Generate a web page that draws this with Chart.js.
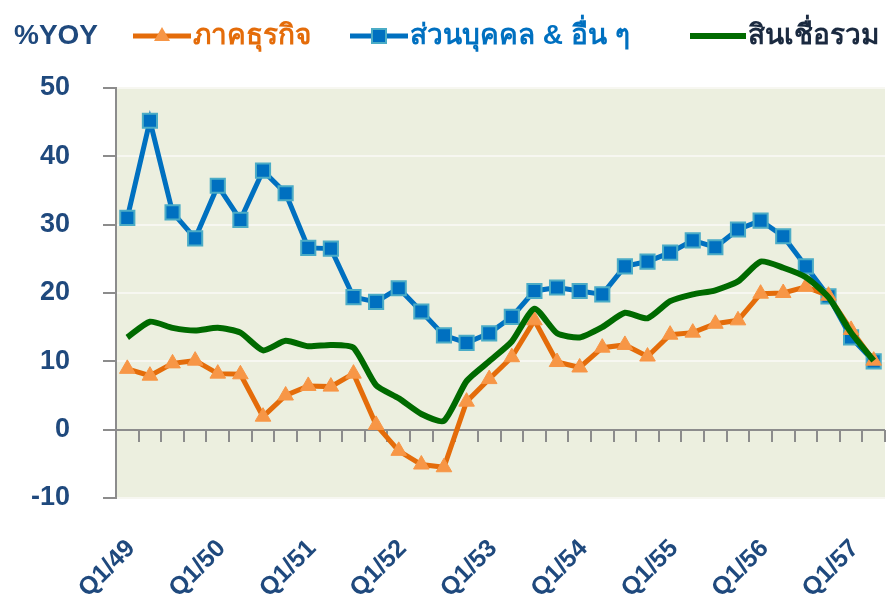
<!DOCTYPE html>
<html>
<head>
<meta charset="utf-8">
<script src="https://cdn.jsdelivr.net/npm/chart.js@4"></script>
<style>
    html, body { margin: 0; padding: 0; background: #ffffff; }
    #wrap { position: relative; width: 891px; height: 599px; }
    #legend {
        position: absolute; left: 0; top: 14px; height: 42px; width: 891px;
        font-family: Arial, "Liberation Sans", "Noto Sans", sans-serif;
        font-weight: bold; font-size: 28px; line-height: 42px; white-space: nowrap;
    }
    #legend span, #legend svg { position: absolute; top: 0; }
    #legend svg { top: 9px; }
</style>
</head>
<body>
<div id="wrap">
    <canvas id="myChart" width="891" height="599"></canvas>
    <div id="legend">
        <span style="left:14px;color:#1F497D">%YOY</span>
        <svg style="left:133px" width="58" height="24">
            <line x1="0" y1="13" x2="58" y2="13" stroke="#E46C0A" stroke-width="5"/>
            <polygon points="29,4 37,18 21,18" fill="#F79646"/>
        </svg>
        <span style="left:193px;color:#E46C0A">ภาคธุรกิจ</span>
        <svg style="left:350px" width="58" height="24">
            <line x1="0" y1="13" x2="58" y2="13" stroke="#0070C0" stroke-width="5"/>
            <rect x="22" y="6" width="14" height="14" fill="#0070C0" stroke="#4BACC6" stroke-width="2"/>
        </svg>
        <span style="left:410px;color:#0070C0">ส่วนบุคคล &amp; อื่น ๆ</span>
        <svg style="left:690px" width="56" height="24">
            <line x1="0" y1="13" x2="56" y2="13" stroke="#006A00" stroke-width="6"/>
        </svg>
        <span style="left:748px;color:#1B2A40">สินเชื่อรวม</span>
    </div>
</div>
<script>
const quarters = [
    "Q1/49", "Q2/49", "Q3/49", "Q4/49",
    "Q1/50", "Q2/50", "Q3/50", "Q4/50",
    "Q1/51", "Q2/51", "Q3/51", "Q4/51",
    "Q1/52", "Q2/52", "Q3/52", "Q4/52",
    "Q1/53", "Q2/53", "Q3/53", "Q4/53",
    "Q1/54", "Q2/54", "Q3/54", "Q4/54",
    "Q1/55", "Q2/55", "Q3/55", "Q4/55",
    "Q1/56", "Q2/56", "Q3/56", "Q4/56",
    "Q1/57", "Q2/57"
];

// ภาคธุรกิจ
const business = [
    8.9, 7.9, 9.7, 10.1, 8.2, 8.1, 1.9, 5.0,
    6.4, 6.3, 8.2, 0.7, -3.1, -5.1, -5.5, 4.1,
    7.4, 10.6, 16.0, 9.9, 9.1, 12.0, 12.4, 10.7,
    13.9, 14.2, 15.5, 16.0, 19.9, 20.0, 20.9, 19.6,
    14.6, 10.1
];

// ส่วนบุคคล & อื่น ๆ
const personal = [
    31.0, 45.2, 31.8, 28.0, 35.7, 30.7, 37.9, 34.6,
    26.6, 26.5, 19.4, 18.7, 20.7, 17.3, 13.8, 12.7,
    14.1, 16.5, 20.3, 20.8, 20.3, 19.8, 23.9, 24.6,
    25.9, 27.7, 26.7, 29.3, 30.6, 28.3, 23.9, 19.5,
    13.5, 10.0
];

// สินเชื่อรวม
const total = [
    13.5, 15.8, 14.9, 14.5, 14.9, 14.2, 11.6, 13.0,
    12.2, 12.4, 12.0, 6.5, 4.6, 2.3, 1.3, 7.1,
    10.0, 12.9, 17.7, 14.1, 13.5, 15.0, 17.1, 16.3,
    18.8, 19.8, 20.4, 21.7, 24.6, 23.7, 22.3, 19.4,
    14.2, 10.1
];

const yTicks = [-10, 0, 10, 20, 30, 40, 50];

window.onload = () => {
    const labelColor = "#1F497D";
    const axisGray = "#8C8C8C";
    const fontFamily = 'Arial, "Liberation Sans", sans-serif';

    // shades the plot area
    const plotBackground = {
        id: "plotBackground",
        beforeDraw(chart) {
            const a = chart.chartArea;
            const ctx = chart.ctx;
            ctx.save();
            ctx.fillStyle = "#ECEFDF";
            ctx.fillRect(a.left, a.top, a.right - a.left, a.bottom - a.top);
            ctx.restore();
        }
    };

    const noSidePadding = (s) => {
        s.paddingRight = 0;
        s.paddingLeft = 0;
    };

    const data = {
        labels: quarters,
        datasets: [
            {
                label: "สินเชื่อรวม",
                data: total,
                borderColor: "#006A00",
                borderWidth: 6,
                pointRadius: 0,
                tension: 0.2,
                order: 1
            },
            {
                label: "ส่วนบุคคล & อื่น ๆ",
                data: personal,
                borderColor: "#0070C0",
                borderWidth: 5,
                pointStyle: "rect",
                pointRadius: 10,
                pointBackgroundColor: "#0070C0",
                pointBorderColor: "#4BACC6",
                pointBorderWidth: 2,
                order: 3
            },
            {
                label: "ภาคธุรกิจ",
                data: business,
                borderColor: "#E46C0A",
                borderWidth: 5,
                pointStyle: "triangle",
                pointRadius: 9,
                pointBackgroundColor: "#F79646",
                pointBorderColor: "#F79646",
                pointBorderWidth: 1,
                order: 2
            }
        ]
    };

    const config = {
        type: "line",
        data: data,
        options: {
            responsive: false,
            animation: false,
            layout: {
                autoPadding: false,
                padding: { top: 88, right: 6, left: 0, bottom: 0 }
            },
            plugins: {
                legend: { display: false },
                tooltip: { enabled: false }
            },
            scales: {
                x: {
                    offset: true,
                    grid: { display: false, drawTicks: false },
                    border: { display: false },
                    afterFit: (s) => {
                        s.height = 101;
                        noSidePadding(s);
                    },
                    ticks: {
                        autoSkip: false,
                        maxRotation: 45,
                        minRotation: 45,
                        padding: 36,
                        labelOffset: 4,
                        color: labelColor,
                        font: { family: fontFamily, size: 25, weight: "bold" },
                        callback: function (value, index) {
                            return index % 4 === 0 ? this.getLabelForValue(value) : "";
                        }
                    }
                },
                x2: {
                    type: "category",
                    position: { y: 0 },
                    offset: true,
                    afterFit: noSidePadding,
                    grid: {
                        offset: true,
                        drawOnChartArea: false,
                        tickLength: 12,
                        color: axisGray,
                        lineWidth: 2
                    },
                    border: { display: false },
                    ticks: { display: false }
                },
                y: {
                    min: -10,
                    max: 50,
                    afterFit: (s) => { s.width = 116; },
                    afterBuildTicks: (s) => { s.ticks = yTicks.map((v) => ({ value: v })); },
                    grid: {
                        color: (c) => (c.tick && c.tick.value === 0 ? axisGray : "#F7F7F1"),
                        lineWidth: 2,
                        tickColor: axisGray,
                        tickLength: 13
                    },
                    border: { color: axisGray, width: 2 },
                    ticks: {
                        padding: 33,
                        color: labelColor,
                        font: { family: fontFamily, size: 27, weight: "bold" }
                    }
                }
            }
        },
        plugins: [plotBackground]
    };

    const myChart = new Chart(document.getElementById("myChart"), config);
};
</script>
</body>
</html>
